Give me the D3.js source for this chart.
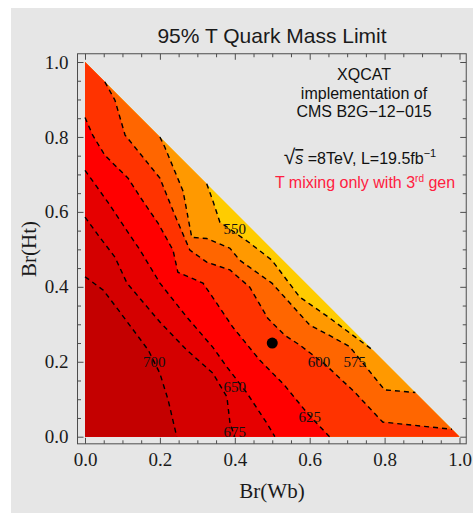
<!DOCTYPE html>
<html>
<head>
<meta charset="utf-8">
<script src="https://cdn.jsdelivr.net/npm/d3@7"></script>
<style>
  body { margin: 0; background: #fff; }
  svg { display: block; }
</style>
</head>
<body>
<svg id="chart" width="473" height="513"></svg>
<script>
// contour levels (GeV) and band colours, lowest band first
const levels = [550, 575, 600, 625, 650, 675, 700];
const bandColors = ["#ffcc00", "#ff9900", "#ff6600", "#ff3300", "#ff0000", "#e60000", "#d40000", "#c40000"];

// contour lines, points are [Br(Wb), Br(Ht)]
const c550 = [[0.325,0.675],[0.341,0.631],[0.36,0.573],[0.44,0.517],[0.499,0.471],[0.573,0.373],[0.653,0.317],[0.77,0.23]];
const c575 = [[0.2,0.8],[0.213,0.773],[0.262,0.655],[0.285,0.532],[0.325,0.529],[0.387,0.503],[0.413,0.471],[0.499,0.41],[0.6,0.298],[0.661,0.266],[0.707,0.24],[0.8,0.125],[0.882,0.118]];
const c600 = [[0.053,0.947],[0.08,0.898],[0.107,0.805],[0.2,0.69],[0.24,0.591],[0.28,0.498],[0.325,0.466],[0.387,0.445],[0.44,0.399],[0.488,0.316],[0.533,0.271],[0.573,0.245],[0.64,0.194],[0.72,0.119],[0.795,0.039],[0.98,0.02]];
const c625 = [[0,0.852],[0.021,0.804],[0.053,0.751],[0.115,0.69],[0.149,0.637],[0.195,0.57],[0.235,0.498],[0.248,0.439],[0.315,0.41],[0.341,0.372],[0.395,0.292],[0.467,0.204],[0.533,0.137],[0.595,0.061],[0.653,0]];
const c650 = [[0,0.711],[0.061,0.626],[0.107,0.557],[0.147,0.498],[0.2,0.41],[0.272,0.319],[0.341,0.239],[0.379,0.186],[0.432,0.117],[0.485,0.037],[0.507,0]];
const c675 = [[0,0.586],[0.035,0.538],[0.08,0.479],[0.112,0.41],[0.2,0.306],[0.272,0.231],[0.341,0.17],[0.379,0.106],[0.387,0.037],[0.4,0]];
const c700 = [[0,0.427],[0.049,0.391],[0.093,0.333],[0.169,0.231],[0.2,0.169],[0.222,0.098],[0.245,0]];
const contours = [c550, c575, c600, c625, c650, c675, c700];

// where the level labels sit
const labelPos = [[0.4,0.555],[0.72,0.2],[0.625,0.2],[0.6,0.053],[0.4,0.133],[0.4,0.013],[0.185,0.2]];
const benchmark = [[0.5, 0.25]];

const majorTicks = [0, 0.2, 0.4, 0.6, 0.8, 1.0];
const minorTicks = [0.05,0.1,0.15,0.25,0.3,0.35,0.45,0.5,0.55,0.65,0.7,0.75,0.85,0.9,0.95];

const svg = d3.select("#chart");

// page background
svg.append("rect")
    .attr("x", 11).attr("y", 8)
    .attr("width", 462).attr("height", 505)
    .attr("fill", "#e6e6e6");

const x = d3.scaleLinear().domain([0, 1]).range([85, 459.5]);
const y = d3.scaleLinear().domain([0, 1]).range([436.7, 62]);

const fl = x(-0.02), fr = x(1.018), ft = y(1.022), fb = y(-0.019);

// position of a boundary point along the triangle perimeter: O->X->Y->O
function perimT(p) {
    if (p[1] <= 1e-6) return p[0];
    if (p[0] <= 1e-6) return 2 + (1 - p[1]);
    return 1 + p[1];
}
const corners = [[0, 0], [1, 0], [0, 1]];

// region of the triangle on the high-mass (origin) side of a contour line
function regionAbove(line) {
    let pts = line.slice();
    let a = perimT(pts[0]), b = perimT(pts[pts.length - 1]);
    const dA = ((b - a) % 3 + 3) % 3;
    if (dA < b) { pts.reverse(); [a, b] = [b, a]; }
    const a2 = a > b ? a - 3 : a;
    for (let k = 2; k >= -2; k--) {
        if (k < b && k > a2) pts.push(corners[((k % 3) + 3) % 3]);
    }
    return pts;
}

const lineGen = d3.line().x(d => x(d[0])).y(d => y(d[1]));

// bands: whole triangle in the lowest colour, then nested regions on top
svg.append("path")
    .attr("d", lineGen(corners) + "Z")
    .attr("fill", bandColors[0]);

svg.append("g").selectAll("path")
    .data(contours)
    .enter().append("path")
    .attr("d", d => lineGen(regionAbove(d)) + "Z")
    .attr("fill", (d, i) => bandColors[i + 1]);

// dashed contour lines
svg.append("g").selectAll("path")
    .data(contours)
    .enter().append("path")
    .attr("d", d => lineGen(d))
    .attr("fill", "none")
    .attr("stroke", "#000")
    .attr("stroke-width", 1.4)
    .attr("stroke-dasharray", "5,4");

// level labels
svg.append("g").selectAll("text")
    .data(levels)
    .enter().append("text")
    .attr("x", (d, i) => x(labelPos[i][0]))
    .attr("y", (d, i) => y(labelPos[i][1]))
    .attr("dy", "0.35em")
    .attr("text-anchor", "middle")
    .attr("font-family", "'Liberation Serif', 'Times New Roman', serif")
    .attr("font-size", "15px")
    .attr("fill", "#111")
    .text(d => d);

svg.append("g").selectAll("circle")
    .data(benchmark)
    .enter().append("circle")
    .attr("cx", d => x(d[0]))
    .attr("cy", d => y(d[1]))
    .attr("r", 5.5)
    .attr("fill", "#000");

// frame
svg.append("rect")
    .attr("x", fl).attr("y", ft)
    .attr("width", fr - fl).attr("height", fb - ft)
    .attr("fill", "none")
    .attr("stroke", "#4d4d4d")
    .attr("stroke-width", 1);

function styleAxis(g) {
    g.select(".domain").remove();
    g.selectAll(".tick line").attr("stroke", "#4d4d4d");
    g.selectAll("text")
        .attr("font-family", "'Liberation Serif', 'Times New Roman', serif")
        .attr("font-size", "19px")
        .attr("fill", "#1a1a1a");
}

const fmt = d3.format(".1f");
const axes = [
    [d3.axisBottom(x), `translate(0,${fb})`, fmt],
    [d3.axisTop(x), `translate(0,${ft})`, ""],
    [d3.axisLeft(y), `translate(${fl},0)`, fmt],
    [d3.axisRight(y), `translate(${fr},0)`, ""]
];
axes.forEach(([ax, tr, f]) => {
    svg.append("g").attr("transform", tr)
        .call(ax.tickValues(majorTicks).tickFormat(f).tickSize(-6).tickPadding(f ? 9 : 0))
        .call(styleAxis);
    svg.append("g").attr("transform", tr)
        .call(ax.tickValues(minorTicks).tickFormat("").tickSize(-3.5))
        .call(styleAxis);
});

// titles
const sans = "'Liberation Sans', Arial, sans-serif";
const serif = "'Liberation Serif', 'Times New Roman', serif";

svg.append("text")
    .attr("x", 272).attr("y", 43)
    .attr("text-anchor", "middle")
    .attr("font-family", sans).attr("font-size", "21px")
    .attr("fill", "#1a1a1a")
    .text("95% T Quark Mass Limit");

svg.append("text")
    .attr("x", 272).attr("y", 498)
    .attr("text-anchor", "middle")
    .attr("font-family", serif).attr("font-size", "21px")
    .attr("fill", "#1a1a1a")
    .text("Br(Wb)");

svg.append("text")
    .attr("transform", "translate(36,249) rotate(-90)")
    .attr("text-anchor", "middle")
    .attr("font-family", serif).attr("font-size", "21px")
    .attr("fill", "#1a1a1a")
    .text("Br(Ht)");

// annotation block
const noteLines = ["XQCAT", "implementation of", "CMS B2G\u221212\u2212015"];
svg.append("g").selectAll("text")
    .data(noteLines)
    .enter().append("text")
    .attr("x", 364)
    .attr("y", (d, i) => 80 + i * 18.5)
    .attr("text-anchor", "middle")
    .attr("font-family", sans).attr("font-size", "16px")
    .attr("fill", "#111")
    .text(d => d);

const energy = svg.append("text")
    .attr("x", 360).attr("y", 164)
    .attr("text-anchor", "middle")
    .attr("font-family", sans).attr("font-size", "16px")
    .attr("fill", "#111");
energy.append("tspan").attr("font-size", "21px").text("\u221A");
energy.append("tspan").attr("font-style", "italic")
    .style("text-decoration", "overline").text("s");
energy.append("tspan").text(" =8TeV, L=19.5fb");
energy.append("tspan").attr("font-size", "11px").attr("dy", -7).text("\u22121");

const mixing = svg.append("text")
    .attr("x", 365).attr("y", 188)
    .attr("text-anchor", "middle")
    .attr("font-family", sans).attr("font-size", "16px")
    .attr("fill", "#ff2040");
mixing.append("tspan").text("T mixing only with 3");
mixing.append("tspan").attr("font-size", "10px").attr("dy", -6).text("rd");
mixing.append("tspan").attr("dy", 6).text(" gen");
</script>
</body>
</html>
